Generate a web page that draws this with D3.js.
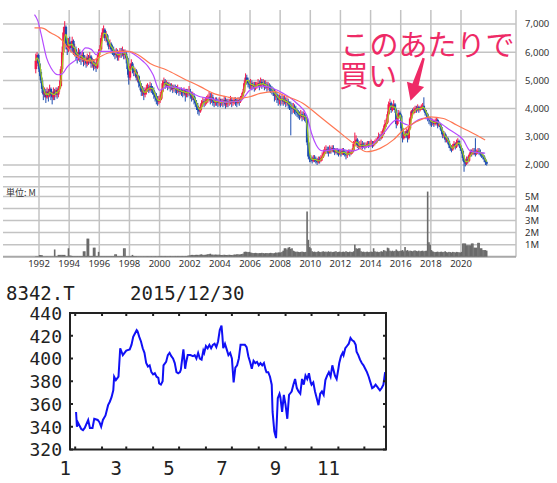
<!DOCTYPE html>
<html><head><meta charset="utf-8">
<script src="https://cdn.jsdelivr.net/npm/d3@7"></script>
<style>body{margin:0;background:#fff}svg{display:block}</style>
</head><body><svg id="c" width="557" height="483"></svg>
<script>
// ---------- Top chart data: monthly candles, Oct 1991 .. Sep 2021 ----------
const firstOpen = 5400;
const closes = [
5700,5900,5600,
5300,5000,4700,4500,4600,4400,4600,4450,4700,4500,4400,4600,
4500,4650,4500,4700,4800,5400,6000,6700,6900,6300,6100,6350,
6300,6150,6400,6000,6100,5900,5800,6000,5850,5750,5900,5700,
5750,5600,5800,5700,5850,5600,5650,5500,5600,5450,5800,6000,
6100,6500,6700,6800,6500,6600,6400,6200,6300,6100,6050,6000,
5900,6000,5850,5900,6000,5950,6050,5900,5950,5800,5400,5100,
5500,5600,5400,5300,5350,5100,5150,4900,4800,4600,4650,4500,
4600,4700,4750,4650,4800,4700,4650,4500,4400,4300,4250,4300,
4350,4600,4900,4950,4850,4900,4800,4850,4750,4800,4700,4750,
4700,4650,4700,4600,4650,4600,4550,4650,4500,4600,4550,4600,
4500,4400,4450,4300,4200,4100,3950,3900,4050,4200,4250,4200,
4250,4300,4350,4420,4300,4400,4250,4200,4300,4250,4200,4250,
4200,4250,4200,4300,4150,4250,4200,4250,4300,4200,4250,4300,
4250,4200,4300,4250,4350,4450,4600,4900,5100,5000,4900,4850,
4900,4800,4850,4750,4800,4850,4900,4800,4950,4850,4900,4800,
4850,4750,4800,4750,4700,4650,4600,4450,4500,4400,4300,4350,
4300,4350,4250,4300,4200,4250,4150,4100,4050,4000,4050,3950,
3900,3850,3800,3750,3800,3700,3750,3700,3650,2800,2300,2250,
2200,2150,2250,2200,2150,2100,2200,2150,2250,2300,2400,2500,
2550,2500,2450,2550,2500,2600,2550,2450,2500,2450,2400,2450,
2400,2500,2450,2400,2350,2400,2450,2400,2450,2500,2750,2800,
2900,2700,2650,2700,2750,2650,2700,2650,2700,2750,2700,2750,
2750,2700,2750,2800,2850,2900,3000,2950,3050,3100,3300,3450,
3500,3800,4150,4200,3950,4050,4150,3950,3450,3700,3850,3750,
3300,2950,3100,3050,3200,2950,3300,3650,3900,3850,3950,4000,
3950,4050,3950,4000,4050,4100,3950,3850,3800,3650,3600,3550,
3500,3550,3450,3550,3600,3400,3450,3350,3200,3050,3100,2900,
2950,2850,2700,2600,2550,2650,2750,2650,2800,2850,2700,2600,
2500,2250,2100,2050,2200,2150,2350,2450,2400,2500,2450,2400,
2450,2500,2450,2400,2350,2300,2200,2100,2050];
const highs = [
5950,6000,5950,
5700,5400,5100,4800,4750,4700,4750,4700,4850,4750,4600,4750,
4700,4750,4750,4800,5000,5500,6200,6900,7100,6950,6500,6500,
6550,6400,6550,6450,6300,6200,6000,6150,6100,5950,6050,6000,
5900,5850,5950,5900,6000,5900,5800,5750,5750,5650,5900,6100,
6250,6600,6850,6950,6850,6750,6650,6450,6450,6350,6250,6200,
6100,6150,6100,6050,6150,6150,6200,6100,6100,6050,5850,5500,
5600,5750,5650,5500,5450,5400,5300,5200,5000,4900,4800,4750,
4750,4850,4900,4850,4950,4900,4800,4750,4600,4550,4450,4450,
4500,4700,5000,5100,5050,5000,4950,4950,4900,4900,4850,4850,
4850,4800,4850,4750,4750,4750,4700,4750,4700,4700,4700,4800,
4700,4600,4600,4550,4400,4300,4200,4050,4150,4300,4400,4350,
4400,4450,4500,4600,4550,4550,4500,4350,4400,4400,4350,4400,
4350,4350,4350,4450,4400,4350,4350,4350,4450,4400,4350,4400,
4400,4350,4400,4400,4450,4550,4700,5000,5250,5200,5100,5000,
5050,5000,4950,4950,4950,4950,5050,5000,5100,5050,5050,5000,
5000,4950,4950,4900,4850,4800,4750,4700,4650,4600,4500,4500,
4450,4500,4450,4450,4400,4400,4350,4250,4250,4200,4200,4150,
4100,4000,3950,3900,3950,3900,3900,3850,3800,3700,2900,2450,
2350,2300,2350,2350,2300,2250,2300,2300,2350,2450,2550,2650,
2700,2650,2650,2700,2650,2700,2700,2600,2600,2600,2550,2550,
2550,2600,2600,2550,2500,2500,2550,2550,2550,2600,2850,3150,
3050,2950,2800,2850,2900,2850,2800,2800,2800,2850,2850,2850,
2900,2850,2850,2900,2950,3000,3150,3100,3200,3250,3400,3600,
3650,3900,4250,4350,4250,4150,4300,4200,4000,3800,3950,3900,
3800,3350,3200,3200,3300,3250,3400,3700,3950,4000,4050,4100,
4100,4150,4100,4100,4150,4200,4400,4000,3950,3850,3700,3700,
3650,3650,3600,3650,3700,3650,3550,3500,3400,3250,3200,3150,
3050,3000,2900,2750,2700,2750,2850,2800,2900,2950,2900,2750,
2650,2550,2350,2200,2300,2300,2400,2550,2550,2600,2600,2950,
2550,2600,2600,2550,2450,2450,2350,2250,2150];
const lows = [
5250,5500,5400,
5150,4900,4550,4300,4400,4200,4350,4250,4400,4300,4150,4300,
4300,4400,4350,4400,4600,4750,5300,5900,6500,6100,5900,6000,
6100,6000,6050,5900,5850,5700,5600,5700,5650,5550,5650,5500,
5550,5450,5500,5550,5600,5450,5450,5350,5400,5300,5400,5700,
5900,6050,6400,6550,6400,6350,6250,6100,6100,5950,5900,5850,
5750,5800,5700,5700,5800,5800,5850,5750,5750,5600,5200,4850,
5000,5400,5250,5150,5150,5000,4950,4750,4650,4450,4450,4300,
4400,4500,4600,4550,4600,4550,4500,4350,4250,4150,4100,4150,
4200,4300,4550,4800,4700,4750,4650,4700,4600,4650,4550,4600,
4550,4500,4550,4450,4500,4450,4400,4450,4250,4400,4400,4450,
4350,4250,4300,4150,4050,3950,3800,3750,3850,3950,4100,4050,
4100,4150,4200,4250,4150,4200,4100,4050,4100,4100,4050,4100,
4050,4100,4050,4100,4000,4050,4050,4100,4150,4050,4100,4150,
4100,4050,4150,4100,4200,4300,4400,4550,4850,4850,4750,4700,
4700,4650,4700,4600,4650,4700,4750,4650,4750,4700,4750,4650,
4700,4600,4650,4600,4550,4500,4450,4250,4300,4200,4100,4150,
4100,4150,4100,4150,4050,4100,4000,3950,3050,3800,3850,3800,
3750,3700,3650,3600,3650,3550,3600,3550,3500,2700,2200,2100,
2100,2050,2100,2100,2050,2000,2050,2050,2100,2150,2250,2350,
2400,2400,2300,2400,2400,2450,2450,2350,2400,2350,2300,2350,
2300,2350,2350,2300,2200,2250,2350,2300,2350,2400,2450,2650,
2700,2600,2550,2600,2600,2550,2600,2550,2600,2650,2600,2650,
2650,2600,2650,2700,2750,2800,2850,2850,2900,2950,3050,3250,
3350,3450,3750,4000,3850,3900,3950,3850,3300,3400,3650,3650,
3200,2800,2900,2950,3000,2800,2900,3250,3600,3750,3800,3850,
3850,3900,3850,3900,3950,3950,3900,3750,3700,3550,3450,3400,
3350,3400,3350,3400,3450,3300,3350,3250,3100,2950,2950,2800,
2800,2750,2600,2500,2450,2500,2600,2550,2600,2750,2650,2500,
2400,2150,1760,1950,2000,2050,2100,2300,2300,2350,2350,2300,
2350,2400,2350,2300,2250,2200,2100,2000,1980];
const volumes = [
0.03,0.03,0.03,
0.14,0.14,0.12,0.03,0.03,0.03,0.03,0.03,0.03,0.03,0.03,0.03,
0.6,0.04,0.04,0.15,0.15,0.15,0.15,0.15,0.15,0.04,0.04,0.7,
0.1,0.08,0.06,0.05,0.05,0.05,0.05,0.05,0.05,0.05,0.05,0.45,
0.45,0.06,1.5,1.5,0.06,0.06,0.06,0.75,0.75,0.06,0.06,0.4,
0.05,0.05,0.05,0.05,0.05,0.05,0.05,0.05,0.05,0.05,0.05,0.05,
0.2,0.2,0.05,0.05,0.05,0.05,0.05,0.7,0.7,0.05,0.05,0.05,
0.05,0.05,0.15,0.06,0.05,0.05,0.04,0.04,0.04,0.04,0.04,0.04,
0.04,0.04,0.05,0.04,0.04,0.05,0.04,0.04,0.05,0.04,0.04,0.05,
0.05,0.06,0.05,0.05,0.06,0.05,0.05,0.05,0.06,0.05,0.05,0.05,
0.06,0.05,0.06,0.06,0.05,0.06,0.06,0.05,0.06,0.06,0.08,0.1,
0.12,0.15,0.15,0.14,0.15,0.16,0.15,0.15,0.18,0.2,0.15,0.15,
0.16,0.18,0.2,0.22,0.25,0.18,0.17,0.16,0.18,0.17,0.16,0.17,
0.15,0.14,0.15,0.16,0.15,0.14,0.15,0.16,0.15,0.14,0.15,0.18,
0.18,0.2,0.2,0.18,0.2,0.22,0.25,0.4,0.42,0.4,0.38,0.4,
0.35,0.32,0.3,0.3,0.32,0.3,0.28,0.3,0.3,0.32,0.3,0.28,
0.3,0.3,0.28,0.3,0.32,0.3,0.28,0.3,0.35,0.32,0.35,0.36,
0.35,0.4,0.5,0.7,0.7,0.6,0.75,0.8,0.65,0.7,0.5,0.45,
0.4,0.42,0.4,0.38,0.4,0.42,0.4,0.38,0.4,3.75,1.4,0.8,
0.7,0.45,0.4,0.42,0.38,0.4,0.45,0.4,0.38,0.42,0.45,0.4,
0.42,0.38,0.45,0.4,0.42,0.38,0.4,0.42,0.45,0.38,0.4,0.42,
0.38,0.4,0.42,0.38,0.45,0.4,0.38,0.42,0.4,0.38,0.45,1.0,
0.7,0.65,0.7,0.7,0.45,0.4,0.42,0.38,0.4,0.42,0.38,0.4,
0.42,0.4,0.7,0.45,0.4,0.42,0.38,0.4,0.45,0.42,0.55,0.5,
0.45,0.75,0.7,0.5,0.45,0.5,0.45,0.48,0.6,0.5,0.45,0.48,
0.5,0.55,0.45,0.8,0.5,0.55,0.45,0.5,0.48,0.45,0.5,0.52,
0.48,0.45,0.5,0.45,0.48,0.5,0.45,0.48,0.5,5.4,1.2,1.0,
0.55,0.45,0.4,0.38,0.4,0.42,0.38,0.4,0.42,0.38,0.4,0.45,
0.38,0.35,0.4,0.38,0.35,0.4,0.38,0.35,0.4,0.38,0.36,0.35,
0.4,1.1,1.1,1.1,0.95,0.95,0.95,0.95,1.1,1.1,0.75,0.75,
0.75,1.15,1.15,0.7,0.7,0.55,0.55,0.55,0.5];
// moving averages (decimal year, price)
const purpleT = [1991.7,1991.93,1992.15,1992.5,1992.8,1993.26,1993.5,1993.9,1994.6,1995.1,1995.47,1995.8,1996.0,1996.8,1997.25,1997.9,1998.35,1998.9,1999.23,1999.57,2000.0,2000.5,2001.5,2002.7,2003.35,2004.45,2005.35,2006.0,2006.85,2007.5,2008.2,2009.1,2009.77,2010.1,2010.4,2010.8,2011.75,2012.85,2013.5,2014.0,2014.85,2015.73,2016.3,2016.6,2017.0,2017.5,2018.4,2019.27,2020.15,2020.6,2021.0,2021.6];
const purpleV = [7330,7100,6620,5800,5440,5200,5220,5500,5800,6150,6100,5910,6030,6030,5970,6030,5910,5680,5500,5200,4650,4780,4700,4420,4360,4230,4270,4660,4800,4720,4540,4190,3750,3100,2700,2500,2560,2500,2620,2680,3120,3600,3450,3400,3550,3650,3540,3240,2890,2500,2450,2420];
const orangeT = [1991.7,1992.15,1992.8,1993.5,1993.9,1994.37,1994.9,1995.47,1995.9,1996.6,1997.25,1997.9,1998.57,1999.37,2000.47,2001.57,2002.7,2003.57,2004.45,2005.1,2006.0,2006.67,2007.66,2008.2,2009.5,2010.65,2011.75,2012.86,2013.75,2014.63,2015.51,2016.17,2017.06,2017.94,2018.83,2019.71,2020.6,2021.6];
const orangeV = [6860,6860,6680,6440,6150,5910,5740,5680,5800,5970,6030,6030,5910,5600,5370,5070,4780,4540,4420,4360,4420,4540,4600,4480,4190,3710,3240,2770,2470,2590,2890,3240,3540,3710,3650,3420,3180,2890];
const yearLabels = [1992,1994,1996,1998,2000,2002,2004,2006,2008,2010,2012,2014,2016,2018,2020];
const priceTicks = [2000,3000,4000,5000,6000,7000];
const volTicks = [1,2,3,4,5];
const noteLines = ["このあたりで","買い"];

// ---------- Bottom chart data: 8342.T daily, 2015 (day of year, price) ----------
const days = [1,2,3,7,9,11,15,17,20,22,26,28,30,32,35,38,40,42,44,45,47,50,52,55,57,59,63,65,67,69,71,72,74,76,78,80,82,84,86,88,90,92,94,96,97,99,101,102,105,107,109,111,113,115,117,119,121,122,125,127,128,130,133,136,138,140,142,144,146,148,149,151,153,155,157,159,161,163,165,167,169,170,171,173,175,177,179,181,183,185,187,189,191,193,196,198,200,202,204,206,208,210,212,214,216,218,220,221,223,225,227,228,230,232,233,234,236,237,239,241,243,245,247,248,250,252,254,256,258,260,262,264,266,268,270,272,273,275,277,279,281,283,285,287,289,291,293,295,297,298,300,302,304,305,307,309,310,312,314,316,318,320,322,324,325,327,329,331,333,335,337,339,341,343,345,347,349,350,352,354,356,358];
const prices = [353,340,344,338,337,339,346,339,339,347,346,344,340,346,350,359,362,366,372,384,381,384,409,403,405,407,408,412,419,422,425,424,419,415,409,405,396,393,394,388,386,387,384,383,378,377,380,394,397,403,405,402,400,396,388,387,388,390,408,391,396,403,403,402,403,400,405,400,399,407,405,411,409,412,409,412,413,410,415,425,429,420,409,413,408,403,405,400,379,392,394,400,412,412,412,410,402,397,391,398,396,397,394,396,394,396,390,388,388,384,377,353,336,330,347,365,369,366,353,368,359,347,368,369,371,377,382,374,371,369,382,377,385,382,387,379,377,379,371,365,359,369,371,368,381,385,388,384,394,391,385,382,391,396,402,405,403,409,411,413,418,416,415,412,406,403,399,396,394,391,388,384,379,374,375,377,375,374,372,374,377,388];
const monthStarts = [0,31,59,90,120,151,181,212,243,273,304,334];
const monthLabels = ["1","","3","","5","","7","","9","","11",""];
const priceTicks2 = [320,340,360,380,400,420,440];
const title = "8342.T", titleDate = "2015/12/30";

// ---------- drawing ----------
const svg = d3.select("#c");
svg.append("rect").attr("width",557).attr("height",483).attr("fill","#fff");
const GRID = "#c3c3c3";
const L = 3, R = 516, PT = 10, PB = 176.7, VT = 186.7, VB = 256.7;
const x = d3.scaleTime().domain([new Date(1992,0,1), new Date(2020,0,1)]).range([39,461]);
const y = d3.scaleLinear().domain([2000,7000]).range([165,24]);
const yv = d3.scaleLinear().domain([0,5]).range([VB,196.4]);
const monthDate = i => new Date(1991, 9 + i, 15);
const decDate = t => { const yr = Math.floor(t); return new Date(yr,0,1 + Math.round((t-yr)*365)); };

const g = svg.append("g");
g.selectAll(".hp").data(priceTicks).join("line")
  .attr("x1",L).attr("x2",R).attr("y1",d=>y(d)).attr("y2",d=>y(d))
  .attr("stroke",GRID).attr("stroke-width",1.5);
g.append("line").attr("x1",L).attr("x2",R).attr("y1",PB).attr("y2",PB).attr("stroke",GRID).attr("stroke-width",1.5);
g.selectAll(".hv").data(volTicks).join("line")
  .attr("x1",L).attr("x2",R).attr("y1",d=>yv(d)).attr("y2",d=>yv(d))
  .attr("stroke",GRID).attr("stroke-width",1.5);
g.append("line").attr("x1",L).attr("x2",R).attr("y1",VT).attr("y2",VT).attr("stroke",GRID).attr("stroke-width",1.5);
g.selectAll(".vy").data(yearLabels).join("line")
  .attr("x1",d=>x(new Date(d,0,1))).attr("x2",d=>x(new Date(d,0,1)))
  .attr("y1",PT).attr("y2",VB).attr("stroke",GRID).attr("stroke-width",1.5);
g.append("line").attr("x1",R).attr("x2",R).attr("y1",PT).attr("y2",VB).attr("stroke",GRID).attr("stroke-width",1.5);
g.append("line").attr("x1",L).attr("x2",R).attr("y1",VB).attr("y2",VB).attr("stroke","#a8a8a8").attr("stroke-width",2);

// volume bars
g.selectAll(".vol").data(volumes).join("rect")
  .attr("x",(d,i)=>x(monthDate(i))-0.8).attr("width",1.6)
  .attr("y",d=>yv(d)).attr("height",d=>VB-yv(d)).attr("fill","#6a6a6a");

// candles
svg.append("clipPath").attr("id","pc").append("rect").attr("x",L).attr("y",PT).attr("width",R-L).attr("height",PB-PT);
const cg = svg.append("g").attr("clip-path","url(#pc)");
const candles = closes.map((c,i)=>({d:monthDate(i), o: i? closes[i-1] : firstOpen, c, h:highs[i], l:lows[i]}));
const RED = "#f5174a", BLUE = "#1d4db0";
cg.selectAll(".wk").data(candles).join("line")
  .attr("x1",d=>x(d.d)).attr("x2",d=>x(d.d)).attr("y1",d=>y(d.h)).attr("y2",d=>y(d.l))
  .attr("stroke",d=>d.c>=d.o?RED:BLUE).attr("stroke-width",1);
cg.selectAll(".bd").data(candles).join("rect")
  .attr("x",d=>x(d.d)-1.2).attr("width",2.4)
  .attr("y",d=>y(Math.max(d.o,d.c))).attr("height",d=>Math.max(1.5,Math.abs(y(d.o)-y(d.c))))
  .attr("fill",d=>d.c>=d.o?RED:BLUE);
const maShort = closes.map((c,i)=>({d:monthDate(i), v:d3.mean(closes.slice(Math.max(0,i-2),i+1))}));
const line = d3.line().x(d=>x(d.d)).y(d=>y(d.v)).curve(d3.curveMonotoneX);
cg.append("path").datum(maShort).attr("d",line).attr("fill","none").attr("stroke","#a3cf1f").attr("stroke-width",1.2);
cg.append("path").datum(purpleT.map((t,i)=>({d:decDate(t),v:purpleV[i]}))).attr("d",line)
  .attr("fill","none").attr("stroke","#b54cff").attr("stroke-width",1.2);
cg.append("path").datum(orangeT.map((t,i)=>({d:decDate(t),v:orangeV[i]}))).attr("d",line)
  .attr("fill","none").attr("stroke","#ff7753").attr("stroke-width",1.2);

// labels
const lf = "'Noto Sans','Noto Sans CJK JP',sans-serif";
svg.selectAll(".pl").data(priceTicks).join("text")
  .attr("x",525).attr("y",d=>y(d)).attr("dy","0.35em").attr("font-family",lf).attr("font-size",9.5).attr("fill","#333")
  .text(d3.format(","));
svg.selectAll(".vl").data(volTicks).join("text")
  .attr("x",525).attr("y",d=>yv(d)).attr("dy","0.35em").attr("font-family",lf).attr("font-size",9.5).attr("fill","#333")
  .text(d=>d+"M");
svg.selectAll(".yl").data(yearLabels).join("text")
  .attr("x",d=>x(new Date(d,0,1))).attr("y",264).attr("dy","0.35em").attr("text-anchor","middle")
  .attr("font-family",lf).attr("font-size",9.5).attr("fill","#333").text(d=>d);
svg.append("text").attr("x",6).attr("y",193).attr("dy","0.35em").attr("font-family","'Noto Sans CJK JP',sans-serif")
  .attr("font-size",9).attr("fill","#333").text("単位: M");

// annotation
const PINK = "#ee2a66";
const nf = "'Noto Sans CJK JP',sans-serif";
svg.append("text").attr("x",x(decDate(2012.0))).attr("y",y(5880)).attr("font-family",nf).attr("font-size",29)
  .attr("fill",PINK).text(noteLines[0]);
svg.append("text").attr("x",x(decDate(2011.92))).attr("y",y(4780)).attr("font-family",nf).attr("font-size",29)
  .attr("fill",PINK).text(noteLines[1]);
{
  const t0 = [x(decDate(2017.52)), y(5790)], t1 = [x(decDate(2016.65)), y(4280)];
  const dx = t1[0]-t0[0], dy = t1[1]-t0[1], len = Math.hypot(dx,dy), ux = dx/len, uy = dy/len, px = -uy, py = ux;
  const hb = [t1[0]-ux*17, t1[1]-uy*17];
  const pts = [
    [t0[0]+px*1.2, t0[1]+py*1.2],[hb[0]+px*3.2, hb[1]+py*3.2],[hb[0]+px*9, hb[1]+py*9],t1,
    [hb[0]-px*9, hb[1]-py*9],[hb[0]-px*3.2, hb[1]-py*3.2],[t0[0]-px*1.2, t0[1]-py*1.2]];
  svg.append("polygon").attr("points",pts.map(p=>p.join(",")).join(" ")).attr("fill",PINK);
}

// ---------- bottom chart ----------
const bx = d3.scaleLinear().domain([-6,359]).range([70,386]);
const by = d3.scaleLinear().domain([320,440]).range([449.5,313]);
const mf = "'DejaVu Sans Mono',monospace";
const b = svg.append("g");
b.append("path").datum(days.map((d,i)=>[d,prices[i]]))
  .attr("d",d3.line().x(d=>bx(d[0])).y(d=>by(d[1])))
  .attr("fill","none").attr("stroke","#1010f5").attr("stroke-width",2);
b.append("rect").attr("x",70).attr("y",313).attr("width",316).attr("height",136.5)
  .attr("fill","none").attr("stroke","#222").attr("stroke-width",2);
b.selectAll(".mt").data(monthStarts).join("g").each(function(d){
  const s = d3.select(this), xx = bx(d);
  s.append("line").attr("x1",xx).attr("x2",xx).attr("y1",449.5).attr("y2",446.5).attr("stroke","#222").attr("stroke-width",2);
  s.append("line").attr("x1",xx).attr("x2",xx).attr("y1",313).attr("y2",316).attr("stroke","#222").attr("stroke-width",2);
});
b.selectAll(".yt").data(priceTicks2).join("g").each(function(d){
  const s = d3.select(this), yy = by(d);
  s.append("line").attr("x1",70).attr("x2",73).attr("y1",yy).attr("y2",yy).attr("stroke","#222").attr("stroke-width",2);
  s.append("line").attr("x1",386).attr("x2",383).attr("y1",yy).attr("y2",yy).attr("stroke","#222").attr("stroke-width",2);
});
b.selectAll(".ytl").data(priceTicks2).join("text")
  .attr("x",62).attr("y",d=>by(d)).attr("dy","0.38em").attr("text-anchor","end")
  .attr("font-family",mf).attr("font-size",18).attr("fill","#222").text(d=>d);
b.selectAll(".xtl").data(monthStarts).join("text")
  .attr("x",d=>bx(d)-10).attr("y",474.5).attr("text-anchor","middle")
  .attr("font-family",mf).attr("font-size",19).attr("fill","#222").text((d,i)=>monthLabels[i]);
b.append("text").attr("x",6).attr("y",300).attr("font-family",mf).attr("font-size",19).attr("fill","#222").text(title);
b.append("text").attr("x",130).attr("y",300).attr("font-family",mf).attr("font-size",19).attr("fill","#222").text(titleDate);
</script></body></html>
